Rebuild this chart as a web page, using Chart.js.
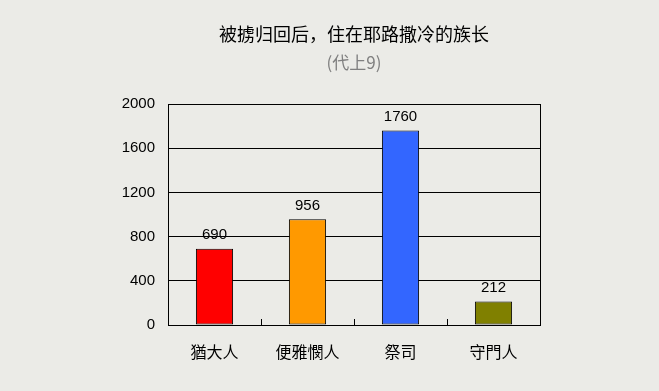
<!DOCTYPE html>
<html>
<head>
<meta charset="utf-8">
<script src="https://cdn.jsdelivr.net/npm/chart.js@4/dist/chart.umd.min.js"></script>
<style>
  html, body { margin: 0; padding: 0; background: #ebebe7; }
  #wrap { width: 659px; height: 391px; position: relative; }
</style>
</head>
<body>
<div id="wrap"><canvas id="c" width="659" height="391"></canvas></div>
<script>
// Heads of families living in Jerusalem after the return (1 Chronicles 9)
const categories = ['猶大人', '便雅憫人', '祭司', '守門人'];
const counts = [690, 956, 1760, 212];
const barColors = ['#ff0000', '#ff9900', '#3366ff', '#808000'];
const yTicks = [0, 400, 800, 1200, 1600, 2000];

const latinFont = '"Liberation Sans", "Noto Sans CJK TC", sans-serif';
const cjkFont = '"Noto Sans CJK SC", "Noto Sans CJK TC", sans-serif';

// Frame around the plot, inner category separators and value labels
const decorations = {
  id: 'decorations',
  afterDatasetsDraw(chart) {
    const { ctx, chartArea: a, scales: { x } } = chart;
    ctx.save();
    ctx.strokeStyle = '#000';
    ctx.lineWidth = 1;
    ctx.strokeRect(Math.round(a.left) + 0.5, Math.round(a.top) + 0.5,
                   Math.round(a.right - a.left), Math.round(a.bottom - a.top));
    for (let i = 1; i < categories.length; i++) {
      const px = Math.round((x.getPixelForValue(i - 1) + x.getPixelForValue(i)) / 2) + 0.5;
      ctx.beginPath();
      ctx.moveTo(px, a.bottom);
      ctx.lineTo(px, a.bottom - 6);
      ctx.stroke();
    }
    const meta = chart.getDatasetMeta(0);
    ctx.fillStyle = '#000';
    ctx.font = '15px ' + latinFont;
    ctx.textAlign = 'center';
    ctx.textBaseline = 'bottom';
    meta.data.forEach((bar, i) => {
      ctx.fillText(String(counts[i]), bar.x, bar.y - 6);
    });
    ctx.restore();
  }
};

new Chart(document.getElementById('c'), {
  type: 'bar',
  data: {
    labels: categories,
    datasets: [{
      data: counts,
      backgroundColor: barColors,
      borderColor: '#000',
      borderWidth: 1,
      borderSkipped: false,
      categoryPercentage: 1,
      barPercentage: 0.4
    }]
  },
  options: {
    responsive: false,
    animation: false,
    devicePixelRatio: 1,
    layout: { padding: { left: 100, right: 119, top: 23, bottom: 10 } },
    plugins: {
      legend: { display: false },
      tooltip: { enabled: false },
      title: {
        display: true,
        text: '被掳归回后，住在耶路撒冷的族长',
        fullSize: false,
        color: '#000',
        font: { family: cjkFont, size: 18, weight: 'normal', lineHeight: 1.2 },
        padding: { top: 0, bottom: 8 }
      },
      subtitle: {
        display: true,
        text: '(代上9)',
        fullSize: false,
        color: '#808080',
        font: { family: cjkFont, size: 17, weight: 'normal', lineHeight: 1.2 },
        padding: { top: 0, bottom: 31 }
      }
    },
    scales: {
      x: {
        grid: { display: false, drawTicks: false },
        border: { display: false },
        ticks: {
          color: '#000',
          padding: 17,
          font: { family: cjkFont, size: 16 }
        },
        afterFit(scale) { scale.height = 56; }
      },
      y: {
        min: 0,
        max: 2000,
        afterBuildTicks(scale) { scale.ticks = yTicks.map(v => ({ value: v })); },
        grid: { color: '#000', lineWidth: 1, drawTicks: false },
        border: { display: false },
        ticks: {
          color: '#000',
          padding: 13,
          font: { family: latinFont, size: 15 },
          callback: v => String(v)
        },
        afterFit(scale) { scale.width = 68; }
      }
    }
  },
  plugins: [decorations]
});
</script>
</body>
</html>
